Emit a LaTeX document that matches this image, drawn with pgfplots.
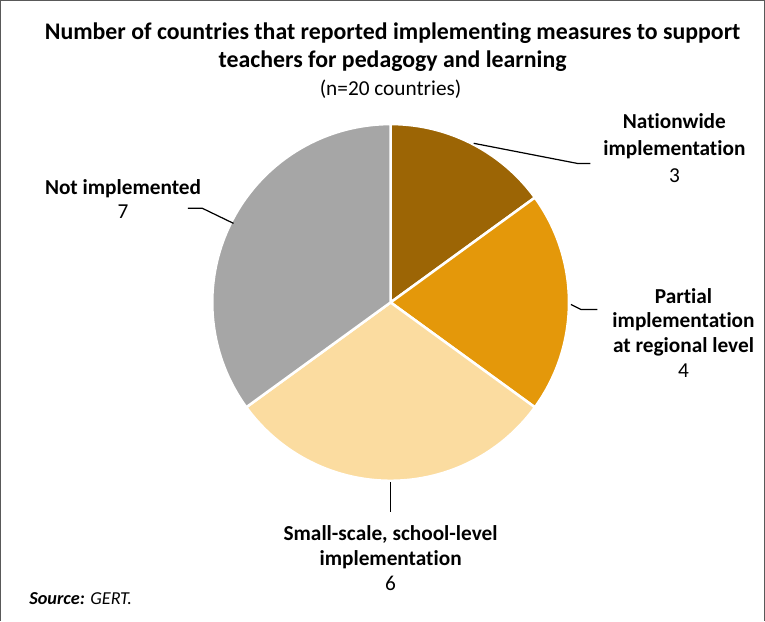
\documentclass[border=0pt]{standalone}
\usepackage{pgfplots}
\pgfplotsset{compat=1.18}
\usepackage{pgfplotstable}
\usepackage{fontspec}
\setmainfont{Carlito}[Ligatures=NoCommon]
\definecolor{cNat}{HTML}{9C6505}
\definecolor{cPar}{HTML}{E4980A}
\definecolor{cSma}{HTML}{FBDCA0}
\definecolor{cNot}{HTML}{A6A6A6}
\pgfplotstableread{
label value
Nationwide 3
Partial 4
SmallScale 6
NotImplemented 7
}\piedata
\pgfplotstablegetelem{0}{value}\of\piedata \let\vA\pgfplotsretval
\pgfplotstablegetelem{1}{value}\of\piedata \let\vB\pgfplotsretval
\pgfplotstablegetelem{2}{value}\of\piedata \let\vC\pgfplotsretval
\pgfplotstablegetelem{3}{value}\of\piedata \let\vD\pgfplotsretval
\pgfmathsetmacro\tot{\vA+\vB+\vC+\vD}
\pgfmathsetmacro\aA{90}
\pgfmathsetmacro\aB{\aA-360*\vA/\tot}
\pgfmathsetmacro\aC{\aB-360*\vB/\tot}
\pgfmathsetmacro\aD{\aC-360*\vC/\tot}
\pgfmathsetmacro\aE{\aD-360*\vD/\tot}
\begin{document}
\begin{tikzpicture}
\begin{axis}[
  width=765pt, height=619pt, scale only axis,
  xmin=0, xmax=765, ymin=0, ymax=619,
  hide axis, clip=false,
]
\addplot[fill=cNat, draw=white, line width=2.5pt, line join=round, domain=\aB:\aA, samples=80, variable=\t]
  ({388+176*cos(\t)},{314+176*sin(\t)}) -- (axis cs:388,314) -- cycle;
\addplot[fill=cPar, draw=white, line width=2.5pt, line join=round, domain=\aC:\aB, samples=80, variable=\t]
  ({388+176*cos(\t)},{314+176*sin(\t)}) -- (axis cs:388,314) -- cycle;
\addplot[fill=cSma, draw=white, line width=2.5pt, line join=round, domain=\aD:\aC, samples=80, variable=\t]
  ({388+176*cos(\t)},{314+176*sin(\t)}) -- (axis cs:388,314) -- cycle;
\addplot[fill=cNot, draw=white, line width=2.5pt, line join=round, domain=\aE:\aD, samples=80, variable=\t]
  ({388+176*cos(\t)},{314+176*sin(\t)}) -- (axis cs:388,314) -- cycle;
% frame
\draw[gray!70!black, line width=0.8pt] (axis cs:3,0) -- (axis cs:3,612) -- (axis cs:757,612) -- (axis cs:757,0);
% leader lines
\draw[black, line width=1.2pt] (axis cs:470,471) -- (axis cs:573,451) -- (axis cs:585,451);
\draw[black, line width=1.2pt] (axis cs:566,312) -- (axis cs:576,307) -- (axis cs:592,307);
\draw[black, line width=1.2pt] (axis cs:188,407) -- (axis cs:202,407) -- (axis cs:233,392);
\draw[black, line width=1.2pt] (axis cs:388,137) -- (axis cs:388,107);
% title
\node[font=\fontsize{23.5}{27.5}\selectfont\bfseries, align=center] at (axis cs:390,566) {Number of countries that reported implementing measures to support\\teachers for pedagogy and learning};
\node[font=\fontsize{21}{24}\selectfont] at (axis cs:388,524) {(n=20 countries)};
% labels
\node[font=\fontsize{21}{26.5}\selectfont, align=center] at (axis cs:668,466) {\textbf{Nationwide}\\\textbf{implementation}\\3};
\node[font=\fontsize{21}{24.5}\selectfont, align=center] at (axis cs:677,284) {\textbf{Partial}\\\textbf{implementation}\\\textbf{at regional level}\\4};
\node[font=\fontsize{21}{24.5}\selectfont, align=center] at (axis cs:124,416) {\textbf{Not implemented}\\7};
\node[font=\fontsize{21}{24.5}\selectfont, align=center] at (axis cs:388,62) {\textbf{Small-scale, school-level}\\\textbf{implementation}\\6};
\node[font=\fontsize{18}{20}\selectfont, anchor=west] at (axis cs:28,22) {\textbf{\itshape Source:} \itshape GERT.};
\end{axis}
\end{tikzpicture}
\end{document}
